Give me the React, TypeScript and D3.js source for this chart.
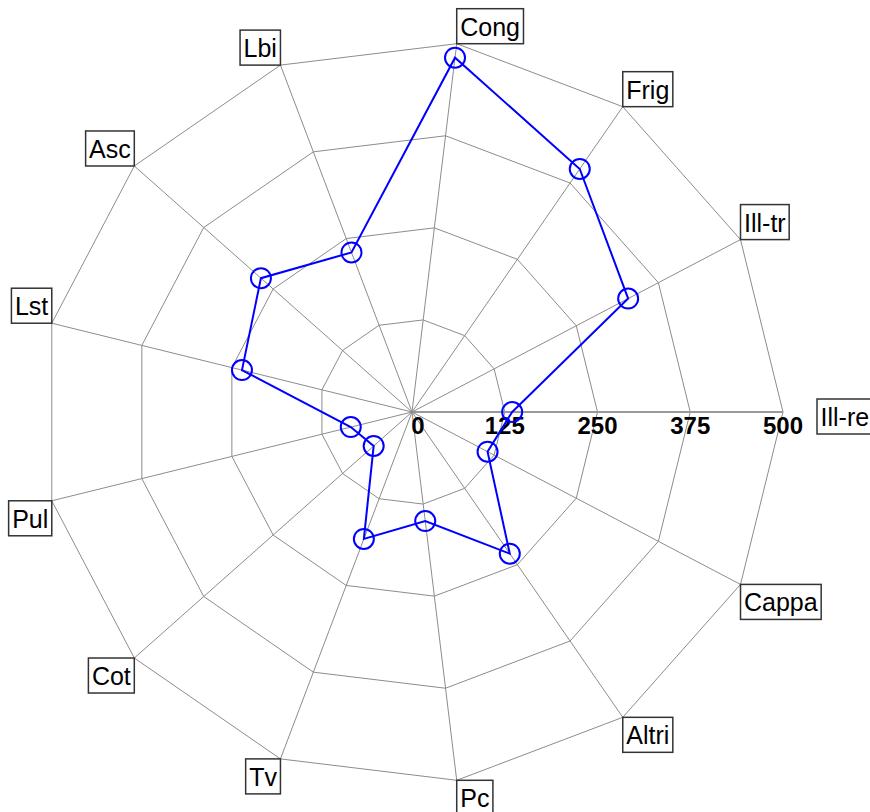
import * as d3 from 'd3'
import React, { useEffect, useRef } from 'react'

// axis names, counter-clockwise from the right
const categories = ['Ill-re', 'Ill-tr', 'Frig', 'Cong', 'Lbi', 'Asc', 'Lst', 'Pul', 'Cot', 'Tv', 'Pc', 'Altri', 'Cappa']
const values = [135, 329, 398, 481, 230, 272, 236, 85, 69, 183, 148, 232, 115]
const ticks = [0, 125, 250, 375, 500]

const App = (): JSX.Element => {
    const ref = useRef<SVGSVGElement>(null)

    const width = 870
    const height = 812
    const cx = 412
    const cy = 412
    const radius = 371

    useEffect(() => {
        const svg = d3.select(ref.current)
        svg.selectAll('*').remove()

        const r = d3.scaleLinear().domain([0, 500]).range([0, radius])
        const n = categories.length
        const angle = (i: number) => (i * 2 * Math.PI) / n
        const pt = (i: number, v: number): [number, number] => [
            cx + r(v) * Math.cos(angle(i)),
            cy - r(v) * Math.sin(angle(i)),
        ]

        const g = svg.append('g')

        // rings
        ticks.slice(1).forEach((t) => {
            g.append('polygon')
                .attr('points', categories.map((_, i) => pt(i, t).join(',')).join(' '))
                .attr('fill', 'none')
                .attr('stroke', '#8c8c8c')
                .attr('stroke-width', 1)
        })

        // spokes
        categories.forEach((_, i) => {
            const [x, y] = pt(i, 500)
            g.append('line')
                .attr('x1', cx)
                .attr('y1', cy)
                .attr('x2', x)
                .attr('y2', y)
                .attr('stroke', i === 0 ? '#999' : '#8c8c8c')
                .attr('stroke-width', i === 0 ? 2 : 1)
        })

        // tick labels along the first axis
        g.selectAll('.tick')
            .data(ticks)
            .enter()
            .append('text')
            .attr('x', (d) => cx + r(d) + (d === 0 ? 6 : 0))
            .attr('y', cy + 22)
            .attr('text-anchor', 'middle')
            .style('font-family', '"Liberation Sans", Arial, sans-serif')
            .style('font-weight', 'bold')
            .style('font-size', '24px')
            .text((d) => d)

        // data polygon
        const line = d3.line().curve(d3.curveLinearClosed)
        const pts = values.map((v, i) => pt(i, v))
        g.append('path')
            .attr('d', line(pts))
            .attr('fill', 'none')
            .attr('stroke', '#0000ff')
            .attr('stroke-width', 2)

        g.selectAll('.marker')
            .data(pts)
            .enter()
            .append('circle')
            .attr('cx', (d) => d[0])
            .attr('cy', (d) => d[1])
            .attr('r', 10)
            .attr('fill', 'none')
            .attr('stroke', '#0000ff')
            .attr('stroke-width', 2)

        // boxed category labels
        const boxH = 35
        const pad = 3.5
        categories.forEach((name, i) => {
            const [vx, vy] = pt(i, 500)
            const c = Math.cos(angle(i))
            const s = Math.sin(angle(i))
            const lg = g.append('g')
            const rect = lg.append('rect')
            const text = lg
                .append('text')
                .style('font-family', '"Liberation Sans", Arial, sans-serif')
                .style('font-size', '25px')
                .text(name)
            const w = (text.node() as SVGTextElement).getComputedTextLength() + pad * 2
            let x0: number
            let y0: number
            if (Math.abs(s) < 0.01) {
                // right-hand axis: pushed past the tick label
                x0 = vx + 34
                y0 = vy - 13
            } else {
                x0 = c >= 0 ? vx : vx - w
                y0 = s > 0 ? vy - boxH : vy
            }
            rect.attr('x', x0)
                .attr('y', y0)
                .attr('width', w)
                .attr('height', boxH)
                .attr('fill', 'white')
                .attr('stroke', '#333')
                .attr('stroke-width', 1.5)
            text.attr('x', x0 + pad).attr('y', y0 + 27)
        })
    }, [])

    return (
        <div style={{ position: 'absolute', left: 0, top: 0 }}>
            <svg ref={ref} width={width} height={height} style={{ display: 'block', background: 'white' }} />
        </div>
    )
}

export default App
